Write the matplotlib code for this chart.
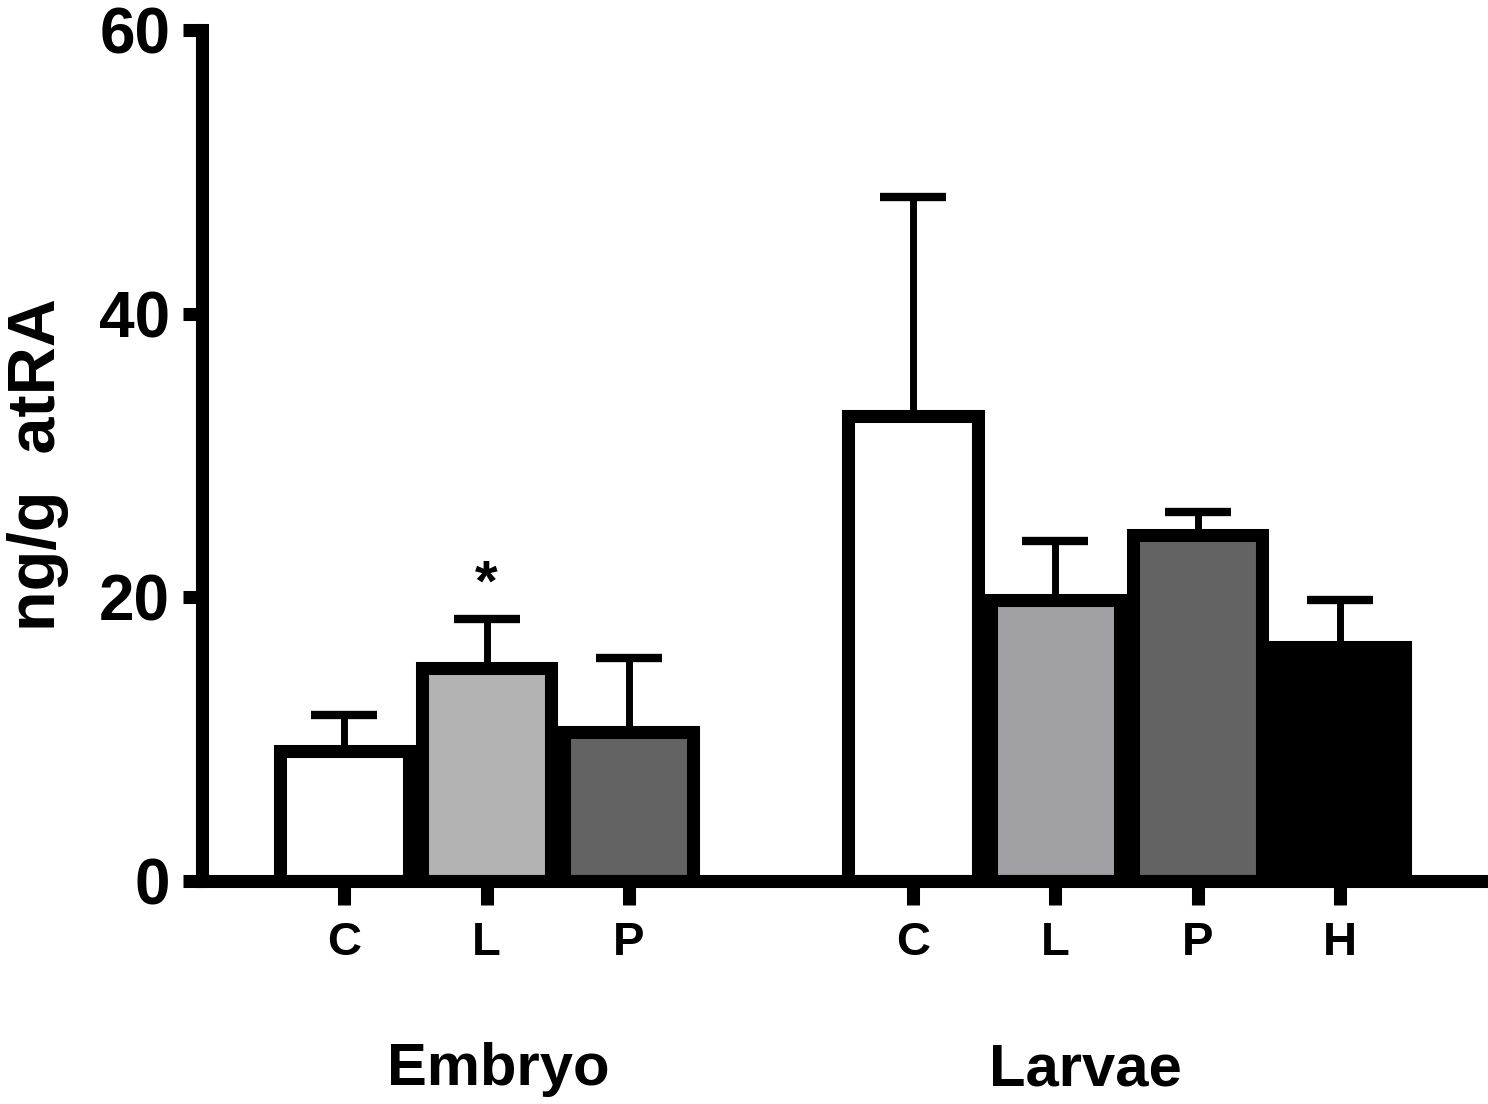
import matplotlib
matplotlib.use("Agg")
import matplotlib.pyplot as plt
import numpy as np

plt.rcParams['font.family'] = ['Liberation Sans', 'DejaVu Sans']
plt.rcParams['font.weight'] = 'bold'

# data
groups = ['Embryo', 'Larvae']
embryo_labels = ['C', 'L', 'P']
embryo_mean = [9.2, 15.0, 10.5]
embryo_sem = [2.5, 3.5, 5.2]
larvae_labels = ['C', 'L', 'P', 'H']
larvae_mean = [32.8, 19.8, 24.4, 16.5]
larvae_sem = [15.4, 4.2, 1.6, 3.3]
embryo_colors = ['#ffffff', '#b3b3b3', '#636363']
larvae_colors = ['#ffffff', '#a0a0a4', '#636363', '#000000']

x_emb = np.arange(len(embryo_mean))
x_lar = np.arange(len(larvae_mean)) + len(embryo_mean) + 1

fig = plt.figure(figsize=(14.88, 11.04), dpi=100)
ax = fig.add_axes([0.1358, 0.202, 0.8602, 0.7708])

lw = 9.4
for xs, m, e, c in [(x_emb, embryo_mean, embryo_sem, embryo_colors),
                    (x_lar, larvae_mean, larvae_sem, larvae_colors)]:
    ax.errorbar(xs, m, yerr=[np.zeros(len(e)), e], fmt='none', ecolor='black',
                elinewidth=5, capsize=24, capthick=6, zorder=1)
    ax.bar(xs, m, width=0.91, color=c, edgecolor='black', linewidth=lw, zorder=2)

# significance mark
ax.text(x_emb[1], embryo_mean[1] + embryo_sem[1] + 1.3, '*', ha='center',
        va='baseline', fontsize=42, fontweight='bold')

ax.set_xlim(-1, 8)
ax.set_ylim(0, 60)
ax.set_yticks([0, 20, 40, 60])
ax.set_xticks(list(x_emb) + list(x_lar))
ax.set_xticklabels(embryo_labels + larvae_labels)

for s in ['top', 'right']:
    ax.spines[s].set_visible(False)
for s in ['left', 'bottom']:
    ax.spines[s].set_linewidth(lw)
ax.spines['left'].set_capstyle('projecting')

ax.tick_params(axis='y', length=14, width=lw, labelsize=46, pad=9)
ax.tick_params(axis='x', length=17, width=lw, labelsize=34, pad=12)
for t in ax.get_yticklabels() + ax.get_xticklabels():
    t.set_fontweight('bold')

ax.set_ylabel('ng/g  atRA', fontsize=48, fontweight='bold')
ax.yaxis.set_label_coords(-0.104, 0.489)

# group labels under the tick labels
ax.text(1.08, -0.222, groups[0], transform=ax.get_xaxis_transform(), ha='center',
        va='center', fontsize=43, fontweight='bold')
ax.text(5.21, -0.222, groups[1], transform=ax.get_xaxis_transform(), ha='center',
        va='center', fontsize=43, fontweight='bold')

fig.savefig('out.png', dpi=100)
